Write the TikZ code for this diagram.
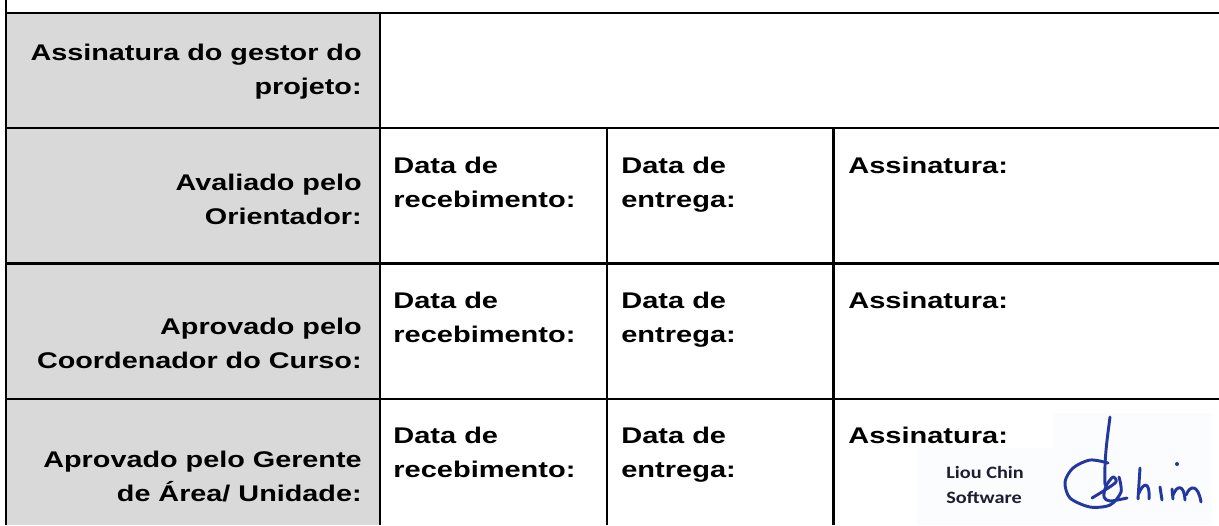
\documentclass[tikz,border=0pt]{standalone}
\usepackage{fontspec}
\setmainfont{Liberation Sans}
\newfontfamily\logofont{Carlito}
\usetikzlibrary{positioning}
\definecolor{cellgray}{RGB}{217,217,217}
\definecolor{sigblue}{RGB}{35,55,160}
\definecolor{logoink}{RGB}{30,30,50}
\definecolor{logopaper}{RGB}{251,252,254}
\tikzset{
  rule/.style={line width=1.75pt},
  rowlabel/.style={anchor=base east, align=right, inner sep=0pt, xscale=1.27, font=\bfseries\fontsize{17}{25.5}\selectfont},
  celltext/.style={anchor=base west, align=left, inner sep=0pt, xscale=1.28, font=\bfseries\fontsize{17}{25.5}\selectfont},
  ink/.style={sigblue, line width=2.2pt, line cap=round, line join=round}
}
\begin{document}
\begin{tikzpicture}[x=0.75pt,y=-0.75pt]
        \useasboundingbox (0,0) rectangle (1219,525);
        \fill[cellgray] (6.2,12.8) rectangle (379.8,525);
        \fill[logopaper] (917,448) rectangle (1053,525);
        \fill[logopaper] (1053,413) rectangle (1212,525);

        \node [rowlabel] (gestor) at (362,94) {Assinatura do gestor do\\projeto:};
        \node [rowlabel] (orientador) at (362,224) {Avaliado pelo\\Orientador:};
        \node [rowlabel] (coordenador) at (362,368) {Aprovado pelo\\Coordenador do Curso:};
        \node [rowlabel] (gerente) at (362,501) {Aprovado pelo Gerente\\de Área/ Unidade:};

        \foreach \i/\y in {1/173.5, 2/308.5, 3/443} {
            \node [celltext] (rec\i) at (393,\y+34) {Data de\\recebimento:};
            \node [celltext] (ent\i) at (621,\y+34) {Data de\\entrega:};
            \node [celltext] (ass\i) at (848,\y) {Assinatura:};
        }

        \node [anchor=base west, align=left, inner sep=0pt, xscale=1.17, text=logoink, font=\logofont\bfseries\fontsize{13}{18.75}\selectfont] (logo) at (946,503) {Liou Chin\\Software};

        \draw[rule] (6.2,0) -- (6.2,525);
        \draw[rule] (6.2,12.8) -- (1219,12.8);
        \draw[rule] (6.2,128) -- (1219,128);
        \draw[rule] (6.2,263.5) -- (1219,263.5);
        \draw[rule] (6.2,399.3) -- (1219,399.3);
        \draw[rule] (379.8,12.8) -- (379.8,525);
        \draw[rule] (606.8,128) -- (606.8,525);
        \draw[rule] (833.5,128) -- (833.5,525);

        \draw[ink] (1110,417) .. controls (1107,440) and (1104,460) .. (1105,485);
        \draw[ink] plot[smooth] coordinates {(1108,463) (1090,460) (1073,468) (1065,482) (1070,498) (1090,507) (1110,505) (1121,492) (1119,477)};
        \draw[ink] plot[smooth] coordinates {(1092,498) (1105,490) (1116,482) (1113,477) (1106,486) (1104,497) (1110,501) (1127,498)};
        \draw[ink] (1140,468) -- (1138,499);
        \draw[ink] (1139,493) .. controls (1143,483) and (1150,480) .. (1149,499);
        \draw[ink] (1160,487) -- (1162,500);
        \fill[sigblue] (1177,464) circle (2);
        \draw[ink] (1172,489) -- (1173,499);
        \draw[ink] (1173,495) .. controls (1177,485) and (1184,484) .. (1185,500);
        \draw[ink] (1186,495) .. controls (1190,485) and (1198,484) .. (1201,502);
    \end{tikzpicture}
\end{document}
